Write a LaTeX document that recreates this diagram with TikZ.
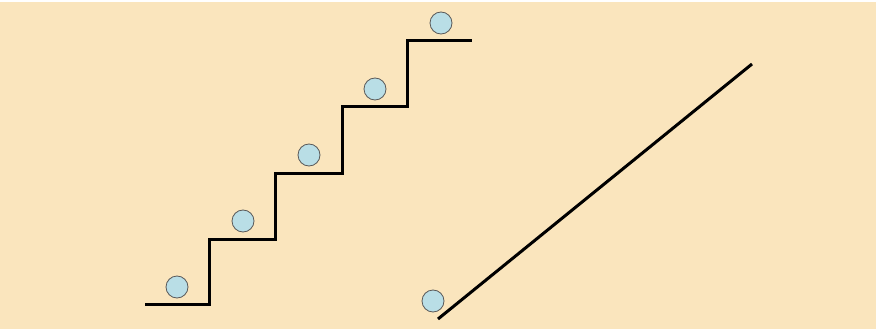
\documentclass[tikz,border=0pt]{standalone}
\begin{document}
\begin{tikzpicture}[x=1pt,y=-1pt,
  ball/.style={circle,draw=black!65,fill=ballblue,line width=0.8pt,minimum size=22pt,inner sep=0pt},
  stair/.style={line width=3pt,black,line join=miter}]
\definecolor{bg}{HTML}{FAE5BD}
\definecolor{ballblue}{HTML}{B9DEE6}
\useasboundingbox (0,0) rectangle (876,329);
\fill[bg] (0,0) rectangle (876,329);
\fill[white] (0,0) rectangle (876,2);
\draw[stair] (145,304) -- (209,304) -- (209,239) -- (275,239) -- (275,173) -- (342,173) -- (342,106) -- (407,106) -- (407,41) -- (472,41);
\node[ball] (b1) at (177,287) {};
\node[ball] (b2) at (243,221) {};
\node[ball] (b3) at (309,155) {};
\node[ball] (b4) at (375,89) {};
\node[ball] (b5) at (441,23) {};
\node[ball] (b6) at (433,301) {};
\coordinate (r1) at (438,319);
\coordinate (r2) at (752,64);
\draw[line width=3pt] (r1) -- (r2);
\end{tikzpicture}
\end{document}
